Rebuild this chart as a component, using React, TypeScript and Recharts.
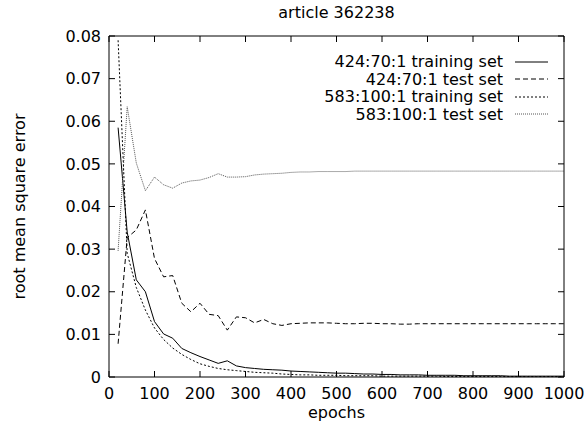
import React from "react";
import {
  LineChart,
  Line,
  XAxis,
  YAxis,
  Legend,
} from "recharts";

// epochs sampled every 20
const epochs = [
  20, 40, 60, 80, 100, 120, 140, 160, 180, 200,
  220, 240, 260, 280, 300, 320, 340, 360, 380, 400,
  420, 440, 460, 480, 500, 520, 540, 560, 580, 600,
  620, 640, 660, 680, 700, 720, 740, 760, 780, 800,
  820, 840, 860, 880, 900, 920, 940, 960, 980, 1000,
];

const train424 = [
  0.0585, 0.034, 0.0228, 0.02, 0.013, 0.0101, 0.0091, 0.0067, 0.0057, 0.0048,
  0.004, 0.0032, 0.0038, 0.0026, 0.0022, 0.002, 0.0018, 0.0017, 0.0016, 0.0014,
  0.0013, 0.0012, 0.0011, 0.001, 0.0009, 0.0009, 0.0008, 0.0007, 0.0007, 0.0006,
  0.0006, 0.0005, 0.0005, 0.0005, 0.0004, 0.0004, 0.0004, 0.0004, 0.0003, 0.0003,
  0.0003, 0.0003, 0.0003, 0.0002, 0.0002, 0.0002, 0.0002, 0.0002, 0.0002, 0.0002,
];

const test424 = [
  0.0078, 0.0327, 0.0345, 0.0392, 0.0278, 0.0235, 0.0238, 0.0173, 0.0153, 0.0173,
  0.0147, 0.0144, 0.011, 0.0141, 0.0139, 0.0127, 0.0135, 0.0125, 0.0121, 0.0125,
  0.0126, 0.0127, 0.0127, 0.0127, 0.0126, 0.0125, 0.0125, 0.0126, 0.0126, 0.0125,
  0.0125, 0.0124, 0.0124, 0.0125, 0.0125, 0.0125, 0.0125, 0.0125, 0.0125, 0.0125,
  0.0125, 0.0125, 0.0125, 0.0125, 0.0125, 0.0125, 0.0125, 0.0125, 0.0125, 0.0125,
];

const train583 = [
  0.079, 0.029, 0.021, 0.0157, 0.0115, 0.0088, 0.0068, 0.0053, 0.0041, 0.0031,
  0.0025, 0.002, 0.0017, 0.0015, 0.0013, 0.0011, 0.001, 0.0009, 0.0007, 0.0006,
  0.0005, 0.0005, 0.0004, 0.0004, 0.0004, 0.0003, 0.0003, 0.0003, 0.0003, 0.0002,
  0.0002, 0.0002, 0.0002, 0.0002, 0.0002, 0.0002, 0.0001, 0.0001, 0.0001, 0.0001,
  0.0001, 0.0001, 0.0001, 0.0001, 0.0001, 0.0001, 0.0001, 0.0001, 0.0001, 0.0001,
];

const test583 = [
  0.0296, 0.0634, 0.0502, 0.0437, 0.0469, 0.0451, 0.0443, 0.0455, 0.046, 0.0462,
  0.0468, 0.0477, 0.0469, 0.0469, 0.047, 0.0474, 0.0476, 0.0477, 0.0478, 0.048,
  0.0481, 0.0481, 0.0482, 0.0482, 0.0482, 0.0482, 0.0483, 0.0483, 0.0483, 0.0483,
  0.0483, 0.0483, 0.0483, 0.0483, 0.0483, 0.0483, 0.0483, 0.0483, 0.0483, 0.0483,
  0.0483, 0.0483, 0.0483, 0.0483, 0.0483, 0.0483, 0.0483, 0.0483, 0.0483, 0.0483,
];

const xTicks = [0, 100, 200, 300, 400, 500, 600, 700, 800, 900, 1000];
const yTicks = [0, 0.01, 0.02, 0.03, 0.04, 0.05, 0.06, 0.07, 0.08];

// the last series sits on the mirrored top/right axes so those get drawn (same domains)
const series = [
  { key: "train424", name: "424:70:1 training set", color: "#000", dash: undefined, mirror: false },
  { key: "test424", name: "424:70:1 test set", color: "#000", dash: "5 3", mirror: false },
  { key: "train583", name: "583:100:1 training set", color: "#000", dash: "2 2", mirror: false },
  { key: "test583", name: "583:100:1 test set", color: "#555", dash: "1 1", mirror: true },
];

const data = epochs.map((epoch, i) => ({
  epoch,
  train424: train424[i],
  test424: test424[i],
  train583: train583[i],
  test583: test583[i],
}));

const font = "'DejaVu Sans', Verdana, sans-serif";
const textStyle = { fontSize: 16, fill: "#000", fontFamily: font };

const renderLegend = () => (
  <div style={{ fontFamily: font, fontSize: 16, color: "#000" }}>
    {series.map((s) => (
      <div
        key={s.key}
        style={{
          display: "flex",
          justifyContent: "flex-end",
          alignItems: "center",
          height: 17.5,
        }}
      >
        <span style={{ whiteSpace: "nowrap" }}>{s.name}</span>
        <svg width={45} height={10}>
          <line
            x1={12}
            x2={45}
            y1={5}
            y2={5}
            stroke={s.color}
            strokeWidth={1}
            strokeDasharray={s.dash}
          />
        </svg>
      </div>
    ))}
  </div>
);

export default function App() {
  return (
    <div style={{ position: "absolute", left: 0, top: 0, background: "#fff" }}>
      <LineChart
        width={586}
        height={421}
        data={data}
        margin={{ top: 35, right: 21, bottom: 0, left: 0 }}
      >
        <XAxis
          dataKey="epoch"
          type="number"
          domain={[0, 1000]}
          ticks={xTicks}
          height={44}
          tickSize={-6}
          tickMargin={17}
          tick={textStyle}
          axisLine={{ stroke: "#000" }}
          tickLine={{ stroke: "#000" }}
          interval={0}
          label={{
            value: "epochs",
            position: "insideBottom",
            offset: 3,
            style: textStyle,
          }}
        />
        <XAxis
          xAxisId="top"
          orientation="top"
          dataKey="epoch"
          type="number"
          domain={[0, 1000]}
          ticks={xTicks}
          height={1}
          tickSize={-6}
          tickFormatter={() => ""}
          axisLine={{ stroke: "#000" }}
          tickLine={{ stroke: "#000" }}
          interval={0}
          label={{
            value: "article 362238",
            position: "top",
            offset: 17,
            style: textStyle,
          }}
        />
        <YAxis
          type="number"
          domain={[0, 0.08]}
          ticks={yTicks}
          width={109}
          tickSize={-6}
          tickMargin={14}
          tick={textStyle}
          tickFormatter={(v: number) => String(v)}
          axisLine={{ stroke: "#000" }}
          tickLine={{ stroke: "#000" }}
          interval={0}
          label={{
            value: "root mean square error",
            angle: -90,
            position: "insideLeft",
            offset: 19,
            style: { ...textStyle, textAnchor: "middle" },
          }}
        />
        <YAxis
          yAxisId="right"
          orientation="right"
          type="number"
          domain={[0, 0.08]}
          ticks={yTicks}
          width={1}
          tickSize={-6}
          tickFormatter={() => ""}
          axisLine={{ stroke: "#000" }}
          tickLine={{ stroke: "#000" }}
          interval={0}
        />
        <Legend
          layout="vertical"
          align="center"
          verticalAlign="middle"
          content={renderLegend}
          wrapperStyle={{ left: 200, top: 53, width: 348, height: 70 }}
        />
        {series.map((s) => (
          <Line
            key={s.key}
            dataKey={s.key}
            name={s.name}
            xAxisId={s.mirror ? "top" : 0}
            yAxisId={s.mirror ? "right" : 0}
            type="linear"
            stroke={s.color}
            strokeWidth={1}
            strokeDasharray={s.dash}
            dot={false}
            activeDot={false}
            isAnimationActive={false}
          />
        ))}
      </LineChart>
    </div>
  );
}
